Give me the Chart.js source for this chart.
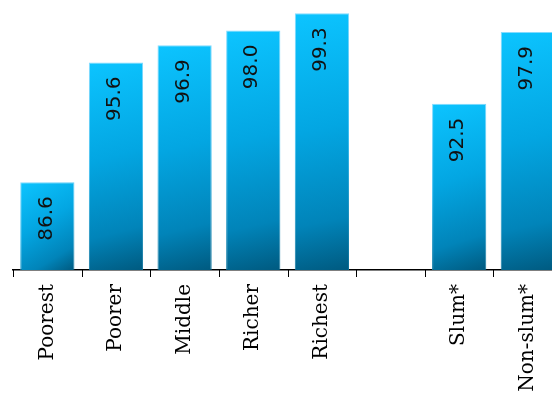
<!DOCTYPE html>
<html>
<head>
<meta charset="utf-8">
<script src="https://cdn.jsdelivr.net/npm/chart.js@4.4.1/dist/chart.umd.min.js"></script>
<style>
  html, body { margin: 0; padding: 0; background: #fff; overflow: hidden; width: 552px; height: 401px; }
  #wrap { width: 566px; height: 401px; }
</style>
</head>
<body>
<div id="wrap"><canvas id="myChart"></canvas></div>
<script>
// wealth quintiles, a gap, then slum / non-slum
const categories = ['Poorest', 'Poorer', 'Middle', 'Richer', 'Richest', '', 'Slum*', 'Non-slum*'];
const values = [86.6, 95.6, 96.9, 98.0, 99.3, null, 92.5, 97.9];
const yMin = 80;
const yMax = 100;

// diagonal gradient over one bar, from its top-left to its bottom-right
function barGradient(context, stops, fallback) {
	const chart = context.chart;
	const v = context.raw;
	const xs = chart.scales.x, ys = chart.scales.y;
	if (!xs || !ys || v == null) return fallback;
	const cx = xs.getPixelForValue(context.dataIndex);
	const top = ys.getPixelForValue(v);
	const base = ys.getPixelForValue(yMin);
	if (![cx, top, base].every(isFinite)) return fallback;
	const g = chart.ctx.createLinearGradient(cx - 27, top, cx + 27, base);
	stops.forEach(function(s) { g.addColorStop(s[0], s[1]); });
	return g;
}

function barFill(context) {
	return barGradient(context, [[0, '#0cc4ff'], [0.45, '#03a6e2'], [0.8, '#0184b9'], [1, '#005a80']], '#03a6e2');
}

function barEdge(context) {
	return barGradient(context, [[0, '#86dcff'], [0.5, '#3cbef0'], [1, '#0a6f98']], '#3cbef0');
}

const valueLabels = {
	id: 'valueLabels',
	afterDatasetsDraw(chart) {
		const ctx = chart.ctx;
		const meta = chart.getDatasetMeta(0);
		ctx.save();
		ctx.fillStyle = '#111';
		ctx.font = '20px "DejaVu Sans"';
		ctx.textAlign = 'right';
		ctx.textBaseline = 'middle';
		meta.data.forEach(function(bar, i) {
			if (values[i] == null) return;
			ctx.save();
			ctx.translate(bar.x - 1, bar.y + 14);
			ctx.rotate(-Math.PI / 2);
			ctx.fillText(values[i].toFixed(1), 0, 0);
			ctx.restore();
		});
		ctx.restore();
	}
};

// tick marks on the category boundaries, below the axis line
const boundaryTicks = {
	id: 'boundaryTicks',
	afterDraw(chart) {
		const xs = chart.scales.x;
		const ctx = chart.ctx;
		const half = (xs.getPixelForValue(1) - xs.getPixelForValue(0)) / 2;
		ctx.save();
		ctx.strokeStyle = '#000';
		ctx.lineWidth = 1;
		ctx.beginPath();
		for (let i = 0; i <= categories.length; i++) {
			const x = Math.round(xs.getPixelForValue(i) - half) + 0.5;
			ctx.moveTo(x, xs.top);
			ctx.lineTo(x, xs.top + 7);
		}
		ctx.stroke();
		ctx.restore();
	}
};

let ctx = document.getElementById('myChart').getContext('2d');

let chart = new Chart(ctx, {
	type: 'bar',
	data: {
		labels: categories,
		datasets: [{
			data: values,
			backgroundColor: barFill,
			borderColor: barEdge,
			borderWidth: 1,
			borderSkipped: 'start',
			barPercentage: 1,
			categoryPercentage: 0.79
		}]
	},
	options: {
		responsive: true,
		maintainAspectRatio: false,
		animation: false,
		layout: { padding: { left: 13, right: 3, top: 4, bottom: 0 } },
		plugins: {
			legend: { display: false },
			tooltip: { enabled: false }
		},
		scales: {
			x: {
				grid: { drawOnChartArea: false, drawTicks: false },
				border: { color: '#000', width: 1.5 },
				ticks: {
					color: '#000',
					font: { family: '"DejaVu Serif"', size: 20 },
					minRotation: 90,
					maxRotation: 90,
					padding: 14,
					autoSkip: false
				},
				afterFit: function(scale) { scale.height = 131; }
			},
			y: {
				display: false,
				min: yMin,
				max: yMax
			}
		}
	},
	plugins: [valueLabels, boundaryTicks]
});
</script>
</body>
</html>
